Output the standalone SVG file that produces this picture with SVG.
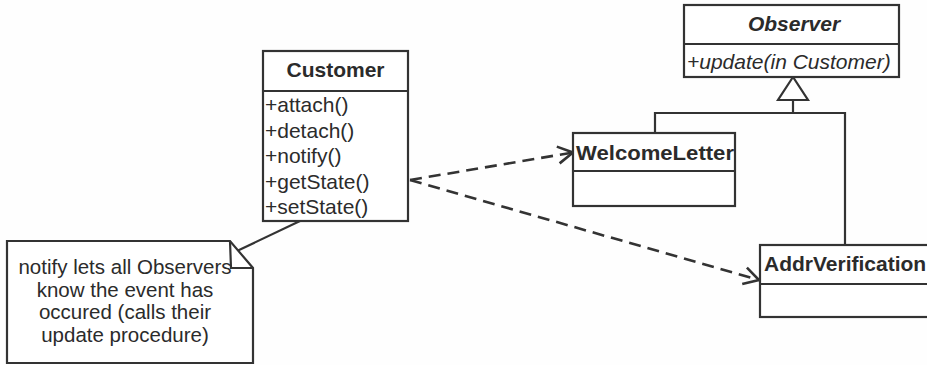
<svg xmlns="http://www.w3.org/2000/svg" width="927" height="365" viewBox="0 0 927 365">
  <style>
    .box { fill: #ffffff; stroke: #333333; stroke-width: 2.2; }
    .line { fill: none; stroke: #333333; stroke-width: 2.2; }
    .dash { fill: none; stroke: #333333; stroke-width: 2.6; stroke-dasharray: 12 7; }
    .t { font-family: "Liberation Sans", Arial, sans-serif; font-size: 21px; fill: #2b2b2b; }
    .b { font-weight: bold; }
    .i { font-style: italic; }
    .n { font-family: "Liberation Sans", Arial, sans-serif; font-size: 20.5px; fill: #2b2b2b; text-anchor: middle; }
  </style>
  <defs>
    <marker id="open" markerUnits="userSpaceOnUse" markerWidth="20" markerHeight="20" viewBox="-2 -10 20 20" refX="15" refY="0" orient="auto">
      <path d="M0,-8.5 L15,0 L0,8.5" fill="none" stroke="#333333" stroke-width="2.6"/>
    </marker>
  </defs>
  <rect width="927" height="365" fill="#fefefe"/>

  <g id="connectors">
    <polyline class="line" points="793,100 793,113"/>
    <polyline class="line" points="655,133 655,113 845,113 845,245"/>
    <polygon points="793,77 778,100 808,100" fill="#ffffff" stroke="#333333" stroke-width="2.2"/>
    <line class="dash" x1="410" y1="180" x2="573" y2="152.5" marker-end="url(#open)"/>
    <line class="dash" x1="410" y1="180" x2="759" y2="280" marker-end="url(#open)"/>
    <line class="line" x1="300" y1="221" x2="237" y2="251"/>
  </g>

  <g id="customer">
    <rect class="box" x="263" y="51" width="145" height="170"/>
    <line class="line" x1="263" y1="91" x2="408" y2="91"/>
    <text class="t b" x="335.5" y="77" text-anchor="middle">Customer</text>
    <text class="t" x="265" y="112">+attach()</text>
    <text class="t" x="265" y="137.5">+detach()</text>
    <text class="t" x="265" y="163">+notify()</text>
    <text class="t" x="265" y="188.5">+getState()</text>
    <text class="t" x="265" y="214">+setState()</text>
  </g>

  <g id="observer">
    <rect class="box" x="684" y="5" width="215" height="72"/>
    <line class="line" x1="684" y1="44" x2="899" y2="44"/>
    <text class="t b i" x="794" y="31" text-anchor="middle">Observer</text>
    <text class="t i" x="687" y="69">+update(in Customer)</text>
  </g>

  <g id="welcomeletter">
    <rect class="box" x="573" y="133" width="162" height="73"/>
    <line class="line" x1="573" y1="171" x2="735" y2="171"/>
    <text class="t b" x="576" y="160" textLength="158" lengthAdjust="spacingAndGlyphs">WelcomeLetter</text>
  </g>

  <g id="addrverification">
    <rect class="box" x="760" y="245" width="180" height="72"/>
    <line class="line" x1="760" y1="284" x2="940" y2="284"/>
    <text class="t b" x="764" y="270.5">AddrVerification</text>
  </g>

  <g id="note">
    <path class="box" d="M7,241 L230,241 L253,268 L253,363 L7,363 Z"/>
    <polyline class="line" points="230,241 231,268 253,268"/>
    <text class="n" x="125" y="274">notify lets all Observers</text>
    <text class="n" x="125" y="296.5">know the event has</text>
    <text class="n" x="125" y="319">occured (calls their</text>
    <text class="n" x="125" y="342">update procedure)</text>
  </g>
</svg>
